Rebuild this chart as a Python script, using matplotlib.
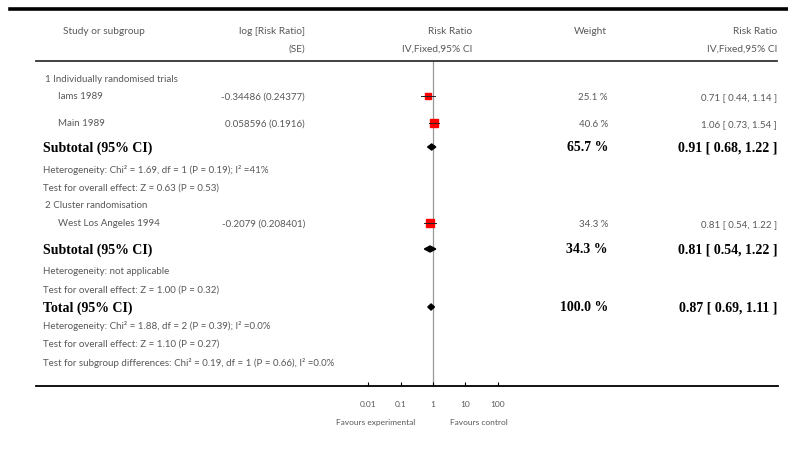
import numpy as np
import matplotlib
matplotlib.use("Agg")
import matplotlib.pyplot as plt
import matplotlib.transforms as mtransforms
from matplotlib.lines import Line2D

# estudios y sus valores (IV, efectos fijos)
studies = ["Iams 1989", "Main 1989", "West Los Angeles 1994"]
log_rr = ["-0.34486", "0.058596", "-0.2079"]
log_se = ["0.24377", "0.1916", "0.208401"]
weights = [25.1, 40.6, 34.3]
rr = [0.71, 1.06, 0.81]
rr_lo = [0.44, 0.73, 0.54]
rr_hi = [1.14, 1.54, 1.22]

# subtotales y total
pooled_names = ["Subtotal (95% CI)", "Subtotal (95% CI)", "Total (95% CI)"]
pooled_w = [65.7, 34.3, 100.0]
pooled_rr = [0.91, 0.81, 0.87]
pooled_lo = [0.68, 0.54, 0.69]
pooled_hi = [1.22, 1.22, 1.11]

groups = ["1 Individually randomised trials", "2 Cluster randomisation"]
notes = [
    "Heterogeneity: Chi² = 1.69, df = 1 (P = 0.19); I² =41%",
    "Test for overall effect: Z = 0.63 (P = 0.53)",
    "Heterogeneity: not applicable",
    "Test for overall effect: Z = 1.00 (P = 0.32)",
    "Heterogeneity: Chi² = 1.88, df = 2 (P = 0.39); I² =0.0%",
    "Test for overall effect: Z = 1.10 (P = 0.27)",
    "Test for subgroup differences: Chi² = 0.19, df = 1 (P = 0.66), I² =0.0%",
]

ticks = [0.01, 0.1, 1, 10, 100]
tick_labels = ["0.01", "0.1", "1", "10", "100"]

# posiciones verticales de las filas (pixeles desde la linea superior)
grp_y = [18, 144]
study_y = [35, 62, 162]
pooled_y = [86, 188, 246]
note_y = [108, 126, 210, 228, 264, 282, 301]

W, H = 788, 460
fig = plt.figure(figsize=(W / 100, H / 100), dpi=100)

GREY = "#585858"
SANS = "Lato"
SERIF = "Liberation Serif"

# eje del forest plot: 1 en x=433 px, 32.3 px por decada
x0, x1, y0, y1 = 36, 778, 62, 387
ax = fig.add_axes([x0 / W, 1 - y1 / H, (x1 - x0) / W, (y1 - y0) / H])
ax.set_xscale("log")
dec = 32.3
ax.set_xlim(10 ** ((x0 - 433) / dec), 10 ** ((x1 - 433) / dec))
ax.set_ylim(y1 - y0, 0)
for s in ["top", "left", "right"]:
    ax.spines[s].set_visible(False)
ax.spines["bottom"].set_linewidth(1.3)
ax.set_yticks([])
ax.set_xticks(ticks)
ax.set_xticklabels(tick_labels)
ax.minorticks_off()
ax.tick_params(axis="x", direction="in", length=3, width=0.8, pad=10,
               labelsize=6, labelcolor=GREY)
for lab in ax.get_xticklabels():
    lab.set_family(SANS)
ax.axvline(1, color="#999999", lw=0.9, zorder=1)

# estudios: cuadrado proporcional al peso + IC
for i in range(len(studies)):
    y = study_y[i]
    ax.plot(rr[i], y, marker="s", ms=0.92 * np.sqrt(weights[i]),
            color="red", mec="red", zorder=3)
    ax.plot([rr_lo[i], rr_hi[i]], [y, y], color="#222222", lw=0.7, zorder=4)

# diamantes de los resultados combinados
for i in range(len(pooled_rr)):
    y = pooled_y[i]
    h = 3
    ax.fill([pooled_lo[i], pooled_rr[i], pooled_hi[i], pooled_rr[i]],
            [y, y - h, y, y + h], color="black", zorder=3)

tr = mtransforms.blended_transform_factory(fig.transFigure, ax.transData)

def px(x):
    return x / W

# columnas de texto
for i, g in enumerate(groups):
    ax.text(px(45), grp_y[i], g, transform=tr, ha="left", va="center",
            family=SANS, fontsize=7, color=GREY)

for i in range(len(studies)):
    y = study_y[i]
    ax.text(px(58), y, studies[i], transform=tr, ha="left", va="center",
            family=SANS, fontsize=7, color=GREY)
    ax.text(px(305), y, "%s (%s)" % (log_rr[i], log_se[i]), transform=tr,
            ha="right", va="center", family=SANS, fontsize=7, color=GREY)
    ax.text(px(608), y + 1, "%.1f %%" % weights[i], transform=tr, ha="right",
            va="center", family=SANS, fontsize=7, color=GREY)
    ax.text(px(777), y + 1, "%.2f [ %.2f, %.2f ]" % (rr[i], rr_lo[i], rr_hi[i]),
            transform=tr, ha="right", va="center", family=SANS, fontsize=7,
            color=GREY)

for i in range(len(pooled_rr)):
    y = pooled_y[i]
    ax.text(px(43), y, pooled_names[i], transform=tr, ha="left", va="center",
            family=SERIF, fontweight="bold", fontsize=10, color="black")
    ax.text(px(608), y, "%.1f %%" % pooled_w[i], transform=tr, ha="right",
            va="center", family=SERIF, fontweight="bold", fontsize=10,
            color="black")
    ax.text(px(777), y, "%.2f [ %.2f, %.2f ]" % (pooled_rr[i], pooled_lo[i],
            pooled_hi[i]), transform=tr, ha="right", va="center", family=SERIF,
            fontweight="bold", fontsize=10, color="black")

for i, n in enumerate(notes):
    ax.text(px(43), note_y[i], n, transform=tr, ha="left", va="center",
            family=SANS, fontsize=7, color=GREY)

# encabezados
def head(x, y, s, ha):
    fig.text(px(x), 1 - y / H, s, ha=ha, va="center", family=SANS,
             fontsize=7.3, color=GREY)

head(63, 32, "Study or subgroup", "left")
head(305, 32, "log [Risk Ratio]", "right")
head(305, 49, "(SE)", "right")
head(472, 32, "Risk Ratio", "right")
head(472, 49, "IV,Fixed,95% CI", "right")
head(607, 32, "Weight", "right")
head(777, 32, "Risk Ratio", "right")
head(777, 49, "IV,Fixed,95% CI", "right")

# rotulos bajo el eje
fig.text(px(376), 1 - 423 / H, "Favours experimental", ha="center",
         va="center", family=SANS, fontsize=6, color=GREY)
fig.text(px(479), 1 - 423 / H, "Favours control", ha="center",
         va="center", family=SANS, fontsize=6, color=GREY)

# lineas horizontales de la tabla
fig.add_artist(Line2D([10 / W, 1], [1 - 10 / H] * 2, lw=2.6, color="black"))
fig.add_artist(Line2D([36 / W, 777 / W], [1 - 62 / H] * 2, lw=1.3,
                      color="#333333"))

fig.savefig("out.png", dpi=100)
